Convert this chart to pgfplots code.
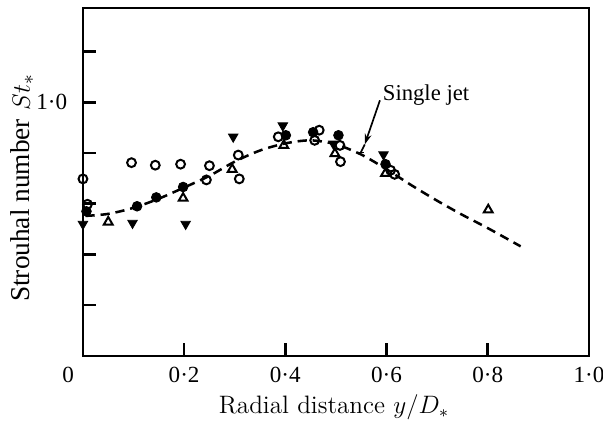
\documentclass[border=0pt]{standalone}
\usepackage{pgfplots}
\pgfplotsset{compat=1.18}
\usepackage{fontspec}
\usetikzlibrary{arrows.meta}
\newfontfamily\tnr{Liberation Serif}
\begin{document}
\begin{tikzpicture}
\begin{axis}[
  scale only axis, width=241pt, height=165.7pt,
  xmin=0, xmax=1, ymin=0.5, ymax=1.186,
  axis line style={line width=1.2pt},
  tick align=inside, xtick pos=bottom, ytick pos=left,
  major tick length=6pt, tick style={line width=1.2pt, black},
  xtick={0.2,0.4,0.6,0.8,1.0}, xticklabels={0·2,0·4,0·6,0·8,1·0},
  extra x ticks={0}, extra x tick labels={0},
  extra x tick style={major tick length=0pt, xticklabel style={xshift=-7pt}},
  ytick={0.6,0.7,0.8,0.9,1.0,1.1}, yticklabels={,,,,1·0,},
  xticklabel style={font=\tnr\fontsize{11}{12}\selectfont, yshift=-2pt},
  yticklabel style={font=\tnr\fontsize{11}{12}\selectfont, xshift=-4pt},
  xlabel={Radial distance $y/D_*$},
  ylabel={{\tnr Strouhal number} $St_*$},
  xlabel style={at={(axis description cs:0.496,-0.147)}, anchor=center, font=\fontsize{12}{14}\selectfont},
  ylabel style={at={(axis description cs:-0.12,0.483)}, anchor=center, font=\fontsize{13}{15}\selectfont},
  clip=false,
]
\coordinate (sw) at (rel axis cs:0,0);
\coordinate (ne) at (rel axis cs:1,1);
% dashed single jet curve
\addplot[black, line width=1.2pt, dash pattern=on 4.4pt off 2.8pt, smooth, tension=0.5] coordinates {
 (0.005,0.776) (0.05,0.780) (0.1,0.792) (0.15,0.810) (0.2,0.832) (0.25,0.855)
 (0.3,0.883) (0.35,0.905) (0.4,0.919) (0.45,0.925) (0.5,0.917) (0.55,0.897)
 (0.6,0.868) (0.65,0.836) (0.7,0.806) (0.75,0.778) (0.8,0.752) (0.865,0.716)
};
% open circles
\addplot[only marks, mark=o, mark size=2.1pt, mark options={line width=0.95pt, black}] coordinates {
 (0.0,0.849) (0.009,0.799) (0.096,0.881) (0.143,0.876) (0.193,0.878) (0.25,0.875)
 (0.244,0.847) (0.307,0.896) (0.309,0.849) (0.386,0.932) (0.467,0.945) (0.458,0.925)
 (0.508,0.915) (0.509,0.883) (0.608,0.866) (0.616,0.858)
};
% filled circles
\addplot[only marks, mark=*, mark size=2.3pt, mark options={black, fill=black}] coordinates {
 (0.007,0.785) (0.107,0.795) (0.145,0.8125) (0.198,0.833) (0.401,0.935)
 (0.455,0.941) (0.505,0.935) (0.598,0.878)
};
% open triangles
\addplot[only marks, mark=triangle, mark size=2.4pt, mark options={line width=0.95pt, black}] coordinates {
 (0.05,0.764) (0.198,0.811) (0.295,0.868) (0.397,0.915) (0.498,0.899)
 (0.598,0.860) (0.801,0.788)
};
% filled down triangles
\addplot[only marks, mark=triangle*, mark size=2.6pt, mark options={black, fill=black, rotate=180}] coordinates {
 (0.0,0.760) (0.098,0.762) (0.203,0.760) (0.297,0.932) (0.395,0.954)
 (0.495,0.918) (0.594,0.897)
};
\node[anchor=west, font=\tnr\fontsize{10.8}{12}\selectfont, inner sep=0pt] at (axis cs:0.592,1.014) {Single jet};
\draw[line width=0.8pt, -{Stealth[length=5pt,width=3.2pt]}] (axis cs:0.587,1.004) -- (axis cs:0.557,0.917);
\draw[line width=0.8pt] (axis cs:0.557,0.917) -- (axis cs:0.549,0.901);
\draw[line width=0.8pt] (axis cs:0.541,0.901) -- (axis cs:0.556,0.901);
\end{axis}
\pgfresetboundingbox
\path ([shift={(-39.5pt,-32.4pt)}]sw) rectangle ([shift={(6.7pt,3.8pt)}]ne);
\end{tikzpicture}
\end{document}
